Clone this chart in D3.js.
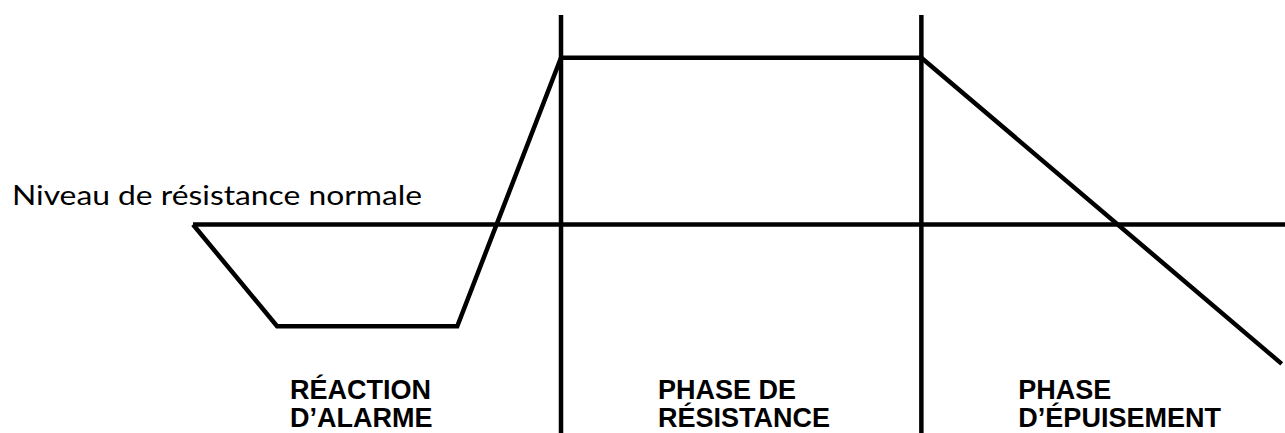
<!DOCTYPE html>
<html>
<head>
<meta charset="utf-8">
<script src="https://cdn.jsdelivr.net/npm/d3@7"></script>
<style>
  html, body { margin: 0; padding: 0; background: #fff; }
  #container { width: 1285px; height: 433px; }
</style>
</head>
<body>
<div id="container"></div>
<script>
// time runs 0..100 across the drawing, resistance 0 = normal level
const stressTime = [0, 7.7, 24.2, 33.7, 66.7, 99.7];
const stressLevel = [0, -1, -1, 1.64, 1.64, -1.37];
const normalLevel = 0;
const phaseStarts = [0, 33.7, 66.7];
const phaseBounds = [33.7, 66.7];
const phaseLabels = [
  ['RÉACTION', 'D’ALARME'],
  ['PHASE DE', 'RÉSISTANCE'],
  ['PHASE', 'D’ÉPUISEMENT']
];
const normalLabel = 'Niveau de résistance normale';

const width = 1285;
const height = 433;

const svg = d3.select('#container')
  .append('svg')
  .attr('width', width)
  .attr('height', height);

const xScale = d3.scaleLinear()
  .domain([0, 100])
  .range([193, 1285]);
const yScale = d3.scaleLinear()
  .domain([-2.05, 2.06])
  .range([height, 15]);

// normal resistance level
svg.append('line')
  .attr('x1', xScale(0))
  .attr('x2', xScale(100) + 2)
  .attr('y1', yScale(normalLevel))
  .attr('y2', yScale(normalLevel))
  .attr('stroke', '#000')
  .attr('stroke-width', 4.5);

svg.append('text')
  .attr('x', 12)
  .attr('y', yScale(normalLevel) - 20)
  .attr('font-family', 'Lato, "Noto Sans", sans-serif')
  .attr('font-size', 27)
  .attr('textLength', 410)
  .attr('lengthAdjust', 'spacingAndGlyphs')
  .attr('fill', '#000')
  .text(normalLabel);

// phase separators
svg.selectAll('.sep')
  .data(phaseBounds)
  .enter()
  .append('line')
  .attr('class', 'sep')
  .attr('x1', d => xScale(d))
  .attr('x2', d => xScale(d))
  .attr('y1', yScale.range()[1])
  .attr('y2', yScale.range()[0])
  .attr('stroke', '#000')
  .attr('stroke-width', 4.5);

// stress response curve
const line = d3.line()
  .x(d => xScale(d[0]))
  .y(d => yScale(d[1]));

svg.append('path')
  .datum(d3.zip(stressTime, stressLevel))
  .attr('fill', 'none')
  .attr('stroke', '#000')
  .attr('stroke-width', 4.5)
  .attr('stroke-linejoin', 'miter')
  .attr('d', line);

// phase labels
const labels = svg.selectAll('.phase')
  .data(phaseLabels)
  .enter()
  .append('text')
  .attr('class', 'phase')
  .attr('font-family', '"Liberation Sans", Arial, sans-serif')
  .attr('font-weight', 'bold')
  .attr('font-size', 27)
  .attr('fill', '#000');

labels.selectAll('tspan')
  .data((d, i) => d.map(t => ({ t, i })))
  .enter()
  .append('tspan')
  .attr('x', d => xScale(phaseStarts[d.i]) + 97)
  .attr('y', (d, j) => 399 + j * 28)
  .text(d => d.t);
</script>
</body>
</html>
